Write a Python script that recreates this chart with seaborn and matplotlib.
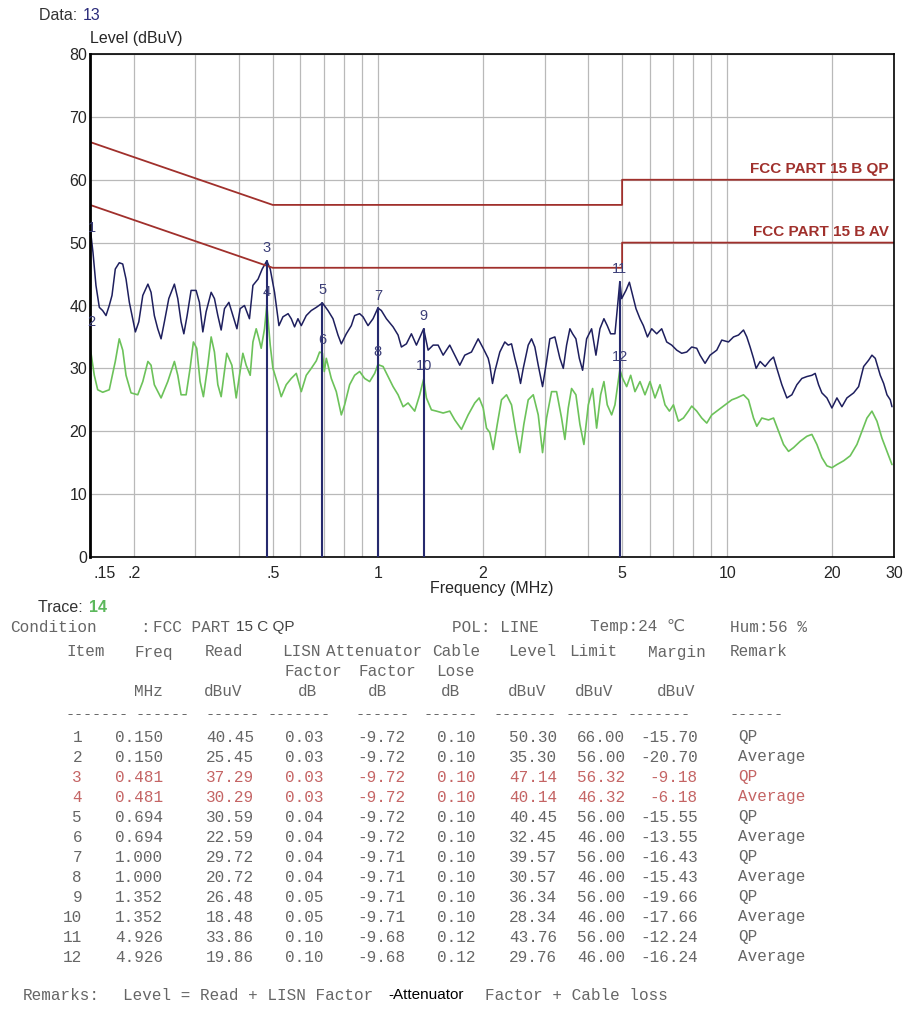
import matplotlib
matplotlib.use("Agg")
import matplotlib.pyplot as plt
import matplotlib.transforms as mtransforms
import pandas as pd
import seaborn as sns

# ---- spectrum traces (MHz, dBuV) ----
qp_freq = [0.150, 0.153, 0.156, 0.1595, 0.163, 0.1667, 0.1703, 0.1734, 0.1772, 0.1819,
           0.1861, 0.1902, 0.1944, 0.1988, 0.2023, 0.2069, 0.2124, 0.2197, 0.2243, 0.2292,
           0.2344, 0.2396, 0.2449, 0.2521, 0.2616, 0.2675, 0.2734, 0.2784, 0.2845, 0.2920,
           0.3018, 0.3085, 0.3155, 0.3224, 0.3333, 0.3406, 0.3483, 0.3560, 0.3639, 0.3746,
           0.3846, 0.3950, 0.4035, 0.4151, 0.4290, 0.4389, 0.4540, 0.4666, 0.481, 0.4919,
           0.5061, 0.5210, 0.5349, 0.5534, 0.5650, 0.5775, 0.5905, 0.6036, 0.6238, 0.6447,
           0.6664, 0.694, 0.7198, 0.7439, 0.7688, 0.7859, 0.8122, 0.8394, 0.8579, 0.8867,
           0.9068, 0.9371, 0.9687, 1.000, 1.0232, 1.0576, 1.1053, 1.1423, 1.1676, 1.2068,
           1.2472, 1.2891, 1.352, 1.3923, 1.4392, 1.4873, 1.5374, 1.6058, 1.6597, 1.7153,
           1.7728, 1.8529, 1.9364, 2.0017, 2.0686, 2.0908, 2.1283, 2.1609, 2.2334, 2.3082,
           2.3603, 2.4125, 2.4657, 2.5213, 2.5601, 2.6062, 2.6932, 2.7527, 2.8135, 2.8769,
           2.9600, 3.0392, 3.1061, 3.2104, 3.3180, 3.3933, 3.4680, 3.5443, 3.6080, 3.6877,
           3.7714, 3.8541, 3.9572, 4.0897, 4.2080, 4.3201, 4.4355, 4.5336, 4.6360, 4.7695,
           4.8437, 4.926, 4.9849, 5.1290, 5.2454, 5.3604, 5.4789, 5.6249, 5.7525, 5.9085,
           6.0760, 6.2801, 6.4905, 6.7084, 6.9332, 7.1660, 7.4060, 7.6546, 7.9112, 8.1768,
           8.3568, 8.6371, 8.9268, 9.3302, 9.6427, 10.078, 10.417, 10.765, 11.128, 11.373,
           11.623, 11.886, 12.092, 12.415, 12.832, 13.263, 13.563, 13.861, 14.326, 14.807,
           15.303, 15.817, 16.347, 16.896, 17.462, 17.847, 18.249, 18.652, 19.279, 19.925,
           20.594, 21.284, 21.998, 22.993, 23.760, 24.561, 25.382, 25.942, 26.514, 27.403,
           28.025, 28.642, 29.273, 29.602]
qp_level = [52.6, 48.4, 43.2, 39.7, 39.2, 38.4, 40.0, 41.6, 45.8, 46.8,
            46.6, 44.2, 40.5, 37.9, 35.8, 37.4, 41.6, 43.4, 42.1, 38.4,
            36.3, 34.7, 37.4, 41.1, 43.4, 41.1, 37.4, 35.5, 38.4, 42.4,
            42.4, 40.5, 35.8, 39.0, 42.1, 41.1, 38.4, 36.1, 39.5, 40.5,
            38.4, 36.3, 39.5, 40.0, 37.9, 43.2, 44.2, 45.8, 47.1, 45.8,
            42.1, 36.8, 38.2, 38.7, 37.9, 36.6, 37.9, 36.8, 38.4, 39.2,
            39.7, 40.4, 39.2, 37.9, 35.3, 33.9, 35.5, 36.8, 38.4, 38.7,
            38.2, 36.8, 37.9, 39.6, 39.2, 37.9, 36.6, 35.3, 33.4, 33.9,
            35.5, 33.7, 36.3, 32.9, 33.7, 33.7, 32.1, 33.7, 32.1, 30.5,
            32.1, 32.6, 34.7, 33.2, 31.6, 30.5, 27.6, 29.5, 32.6, 34.2,
            33.7, 33.9, 31.6, 29.5, 27.6, 30.0, 33.7, 34.7, 33.4, 30.5,
            27.1, 31.1, 34.7, 35.0, 31.6, 30.0, 33.7, 36.3, 35.5, 34.7,
            31.6, 29.7, 34.7, 36.3, 32.1, 36.3, 37.9, 36.8, 35.5, 35.5,
            39.5, 43.8, 41.1, 42.4, 43.7, 41.6, 39.5, 37.9, 36.8, 35.0,
            36.3, 35.5, 36.3, 34.2, 33.7, 32.9, 32.4, 32.6, 33.4, 33.2,
            32.1, 30.8, 32.1, 32.9, 34.5, 34.2, 35.0, 35.3, 36.1, 35.0,
            33.4, 31.6, 30.0, 31.1, 30.3, 31.3, 31.8, 30.0, 27.4, 25.3,
            25.8, 27.4, 28.4, 28.7, 28.9, 29.2, 27.4, 26.1, 25.3, 23.7,
            25.3, 23.9, 25.3, 26.1, 27.1, 30.3, 31.3, 32.1, 31.6, 28.9,
            27.6, 25.8, 25.0, 23.9]

av_freq = [0.150, 0.1543, 0.1578, 0.1631, 0.1703, 0.1772, 0.1819, 0.1861, 0.1902, 0.1966,
           0.2055, 0.2124, 0.2197, 0.2243, 0.2292, 0.2396, 0.2504, 0.2616, 0.2675, 0.2734,
           0.2826, 0.2901, 0.2965, 0.3030, 0.3099, 0.3167, 0.3260, 0.3333, 0.3406, 0.3483,
           0.3560, 0.3639, 0.3695, 0.3821, 0.3931, 0.4017, 0.4108, 0.4198, 0.4311, 0.4389,
           0.4485, 0.4566, 0.4635, 0.4738, 0.481, 0.4919, 0.5008, 0.5175, 0.5289, 0.5466,
           0.5650, 0.5840, 0.6036, 0.6238, 0.6447, 0.6664, 0.6810, 0.694, 0.7025, 0.7118,
           0.7356, 0.7603, 0.7859, 0.8032, 0.8301, 0.8579, 0.8867, 0.9164, 0.9472, 0.9790,
           1.000, 1.0348, 1.0694, 1.1053, 1.1423, 1.1808, 1.2202, 1.2747, 1.3174, 1.352,
           1.3770, 1.4231, 1.4709, 1.5374, 1.6058, 1.6597, 1.7346, 1.8128, 1.8937, 1.9497,
           2.0017, 2.0457, 2.0908, 2.1382, 2.1962, 2.2584, 2.3342, 2.4125, 2.4823, 2.5484,
           2.6164, 2.6932, 2.7839, 2.8769, 2.9600, 3.0392, 3.1411, 3.2466, 3.3553, 3.4293,
           3.5066, 3.5841, 3.6877, 3.7860, 3.8872, 4.0013, 4.1169, 4.2270, 4.3400, 4.4355,
           4.5336, 4.6666, 4.7695, 4.926, 5.0181, 5.1523, 5.2900, 5.4424, 5.6249, 5.8135,
           6.0085, 6.2100, 6.4183, 6.6336, 6.8297, 7.0117, 7.2459, 7.4898, 7.7400, 7.9112,
           8.1768, 8.4507, 8.7345, 9.0271, 9.4342, 9.8554, 10.301, 10.646, 11.128, 11.499,
           11.886, 12.148, 12.555, 13.122, 13.563, 14.016, 14.488, 14.972, 15.477, 16.165,
           16.896, 17.462, 18.048, 18.652, 19.279, 19.925, 20.594, 21.525, 22.482, 23.499,
           24.286, 25.102, 25.942, 26.813, 27.712, 28.642, 29.602]
av_level = [33.5, 28.9, 26.6, 26.2, 26.6, 31.1, 34.7, 32.9, 28.9, 26.1,
            25.8, 27.9, 31.1, 30.5, 27.4, 25.3, 27.9, 31.1, 28.9, 25.8,
            25.8, 30.0, 34.2, 33.2, 27.9, 25.5, 30.5, 35.0, 32.6, 27.4,
            25.5, 29.5, 32.4, 30.5, 25.3, 28.9, 32.4, 30.5, 28.9, 34.2,
            36.3, 34.7, 33.2, 36.3, 40.1, 33.7, 30.0, 27.4, 25.5, 27.4,
            28.4, 29.2, 26.3, 28.9, 30.0, 31.2, 32.6, 32.4, 29.5, 31.6,
            28.4, 26.3, 22.6, 24.2, 27.4, 28.9, 29.5, 28.4, 27.9, 29.2,
            30.6, 30.3, 28.7, 27.1, 25.8, 23.9, 24.5, 23.2, 25.8, 28.3,
            25.3, 23.4, 23.2, 22.9, 23.2, 21.8, 20.3, 22.6, 24.5, 25.3,
            23.7, 20.5, 19.8, 17.1, 21.1, 25.0, 25.8, 24.2, 20.0, 16.6,
            21.1, 25.0, 25.8, 22.6, 16.6, 22.1, 26.3, 26.3, 22.1, 18.7,
            23.7, 26.8, 25.8, 21.1, 17.9, 24.2, 26.8, 20.5, 25.8, 27.9,
            24.2, 22.6, 24.2, 29.8, 28.4, 27.1, 28.9, 26.3, 27.9, 25.8,
            27.9, 25.3, 27.4, 24.2, 23.2, 24.2, 21.6, 22.1, 23.2, 24.0,
            23.2, 22.1, 21.3, 22.6, 23.4, 24.2, 25.0, 25.3, 25.8, 25.0,
            22.1, 20.8, 22.1, 21.8, 22.1, 20.0, 17.9, 16.8, 17.4, 18.4,
            19.2, 19.5, 17.9, 15.8, 14.5, 14.2, 14.7, 15.3, 16.1, 17.9,
            20.0, 22.1, 23.2, 21.6, 18.9, 16.8, 14.7]

# ---- limit lines ----
lim_freq = [0.15, 0.5, 5.0, 5.0, 30.0]
lim_qp = [66, 56, 56, 60, 60]
lim_av = [56, 46, 46, 50, 50]

# ---- marker table ----
items = [1, 2, 3, 4, 5, 6, 7, 8, 9, 10, 11, 12]
freq = [0.150, 0.150, 0.481, 0.481, 0.694, 0.694, 1.000, 1.000, 1.352, 1.352, 4.926, 4.926]
read = [40.45, 25.45, 37.29, 30.29, 30.59, 22.59, 29.72, 20.72, 26.48, 18.48, 33.86, 19.86]
lisn = [0.03, 0.03, 0.03, 0.03, 0.04, 0.04, 0.04, 0.04, 0.05, 0.05, 0.10, 0.10]
atten = [-9.72, -9.72, -9.72, -9.72, -9.72, -9.72, -9.71, -9.71, -9.71, -9.71, -9.68, -9.68]
cable = [0.10, 0.10, 0.10, 0.10, 0.10, 0.10, 0.10, 0.10, 0.10, 0.10, 0.12, 0.12]
level = [50.30, 35.30, 47.14, 40.14, 40.45, 32.45, 39.57, 30.57, 36.34, 28.34, 43.76, 29.76]
limit = [66.00, 56.00, 56.32, 46.32, 56.00, 46.00, 56.00, 46.00, 56.00, 46.00, 56.00, 46.00]
margin = [-15.70, -20.70, -9.18, -6.18, -15.55, -13.55, -16.43, -15.43, -19.66, -17.66, -12.24, -16.24]
remark = ["QP", "Average"] * 6

xtick_vals = [0.15, 0.2, 0.5, 1, 2, 5, 10, 20, 30]
xtick_labels = [".15", ".2", ".5", "1", "2", "5", "10", "20", "30"]
minor_vals = [0.3, 0.4, 0.6, 0.7, 0.8, 0.9, 3, 4, 6, 7, 8, 9]

df_qp = pd.DataFrame({"f": qp_freq, "lv": qp_level})
df_av = pd.DataFrame({"f": av_freq, "lv": av_level})
df_lim = pd.DataFrame({"f": lim_freq, "qp": lim_qp, "av": lim_av})

#%%
sns.set_style("white")
plt.rcParams['font.family'] = ['Liberation Sans', 'DejaVu Sans']

W, H = 911, 1009
fig = plt.figure(figsize=(W / 100, H / 100), dpi=100)
L, R, T, B = 90, 894, 54, 557
ax = fig.add_axes([L / W, 1 - B / H, (R - L) / W, (B - T) / H])

NAVY = "#1e1f5e"
GREEN = "#6cc25a"
RED = "#a0302c"
FS_AX = 11.5

sns.lineplot(data=df_av, x="f", y="lv", sort=False, estimator=None, color=GREEN, lw=1.2, ax=ax)
sns.lineplot(data=df_qp, x="f", y="lv", sort=False, estimator=None, color=NAVY, lw=1.1, ax=ax)
sns.lineplot(data=df_lim, x="f", y="qp", sort=False, estimator=None, color=RED, lw=1.3, ax=ax)
sns.lineplot(data=df_lim, x="f", y="av", sort=False, estimator=None, color=RED, lw=1.3, ax=ax)

ax.set_xscale("log")
ax.set_xlim(0.15, 30)
ax.set_ylim(0, 80)

# marker lines + labels
for it, f, lv, rm in zip(items, freq, level, remark):
    if rm == "QP" and f > 0.15:
        ax.plot([f, f], [0, lv], color="#262a6e", lw=1.5, zorder=4)
    ax.text(f * (1.012 if f == 0.15 else 1.0), lv + 2.0, str(it), ha="center", va="center",
            fontsize=10.5, color="#3c3f78", zorder=5)

ax.text(29.0, 60.6, "FCC PART 15 B QP", ha="right", va="bottom", fontsize=11,
        fontweight="bold", color=RED)
ax.text(29.0, 50.6, "FCC PART 15 B AV", ha="right", va="bottom", fontsize=11,
        fontweight="bold", color=RED)

# grid
ax.set_xticks(xtick_vals)
ax.set_xticks(minor_vals, minor=True)
ax.set_xticklabels([])
ax.set_xticklabels([], minor=True)
ax.set_yticks(range(0, 90, 10))
ax.set_yticklabels([str(v) for v in range(0, 90, 10)], fontsize=FS_AX)
ax.tick_params(axis="both", which="both", length=0, pad=2)
ax.grid(True, which="both", color="#b9b9b9", lw=0.9)
ax.set_axisbelow(True)
for s in ax.spines.values():
    s.set_color("black")
    s.set_linewidth(1.2)
ax.spines["left"].set_linewidth(2)
ax.set_xlabel("")
ax.set_ylabel("")

trans = mtransforms.blended_transform_factory(ax.transData, ax.transAxes)
for v, lab in zip(xtick_vals, xtick_labels):
    if v == 0.15:
        ax.text(v * 1.02, -0.032, lab, transform=trans, ha="left", va="center", fontsize=FS_AX)
    else:
        ax.text(v, -0.032, lab, transform=trans, ha="center", va="center", fontsize=FS_AX)


def px(x, y):
    return x / W, 1 - y / H


fig.text(*px(492, 589), "Frequency (MHz)", ha="center", va="center", fontsize=FS_AX)
fig.text(*px(90, 38), "Level (dBuV)", ha="left", va="center", fontsize=FS_AX)
fig.text(*px(39, 15), "Data: ", ha="left", va="center", fontsize=FS_AX, color="#333333")
fig.text(*px(83, 15), "13", ha="left", va="center", fontsize=FS_AX, color="#2a2a7a")
fig.text(*px(38, 607), "Trace: ", ha="left", va="center", fontsize=FS_AX, color="#333333")
fig.text(*px(89, 607), "14", ha="left", va="center", fontsize=FS_AX, color="#5cb85c",
         fontweight="bold")

# ---- table below ----
MONO = ["Liberation Mono", "DejaVu Sans Mono", "DejaVu Sans"]
GRAY = "#666666"
FS = 11.5


def mono(x, y, s, ha="left", color=GRAY, size=FS):
    fig.text(*px(x, y), s, ha=ha, va="center", fontsize=size, family=MONO, color=color)


mono(10, 627, "Condition")
mono(140, 627, ":")
mono(153, 627, "FCC PART")
fig.text(*px(236, 627), "15 C QP", ha="left", va="center", fontsize=11, color="#444444")
mono(452, 627, "POL: LINE")
mono(590, 627, "Temp:24 ℃")
mono(730, 627, "Hum:56 %")

y_hdr = 652
for x, s in [(66, "Item"), (134, "Freq"), (205, "Read"), (282, "LISN"), (326, "Attenuator"),
             (432, "Cable"), (508, "Level"), (569, "Limit"), (648, "Margin"), (730, "Remark")]:
    mono(x, y_hdr, s)
for x, s in [(285, "Factor"), (358, "Factor"), (436, "Lose")]:
    mono(x, y_hdr + 20, s)
for x, s in [(134, "MHz"), (204, "dBuV"), (298, "dB"), (368, "dB"), (441, "dB"),
             (508, "dBuV"), (575, "dBuV"), (657, "dBuV")]:
    mono(x, y_hdr + 40, s)
for x, n in [(66, 7), (136, 6), (205, 6), (267, 7), (356, 6), (423, 6), (493, 7), (566, 6),
             (628, 7), (730, 6)]:
    mono(x, y_hdr + 62, "-" * n, size=10.8)

y0, dy = 737, 20
for i in range(len(items)):
    y = y0 + i * dy
    c = "#c46464" if items[i] in (3, 4) else GRAY
    mono(82, y, str(items[i]), ha="right", color=c)
    mono(163, y, f"{freq[i]:.3f}", ha="right", color=c)
    mono(254, y, f"{read[i]:.2f}", ha="right", color=c)
    mono(324, y, f"{lisn[i]:.2f}", ha="right", color=c)
    mono(405, y, f"{atten[i]:.2f}", ha="right", color=c)
    mono(476, y, f"{cable[i]:.2f}", ha="right", color=c)
    mono(557, y, f"{level[i]:.2f}", ha="right", color=c)
    mono(625, y, f"{limit[i]:.2f}", ha="right", color=c)
    mono(698, y, f"{margin[i]:.2f}", ha="right", color=c)
    mono(738, y, remark[i], color=c)

mono(23, 995, "Remarks:")
mono(123, 995, "Level = Read + LISN Factor")
fig.text(*px(388, 995), "-Attenuator", ha="left", va="center", fontsize=11, color="black")
mono(485, 995, "Factor + Cable loss")

plt.savefig("out.png", dpi=100)
